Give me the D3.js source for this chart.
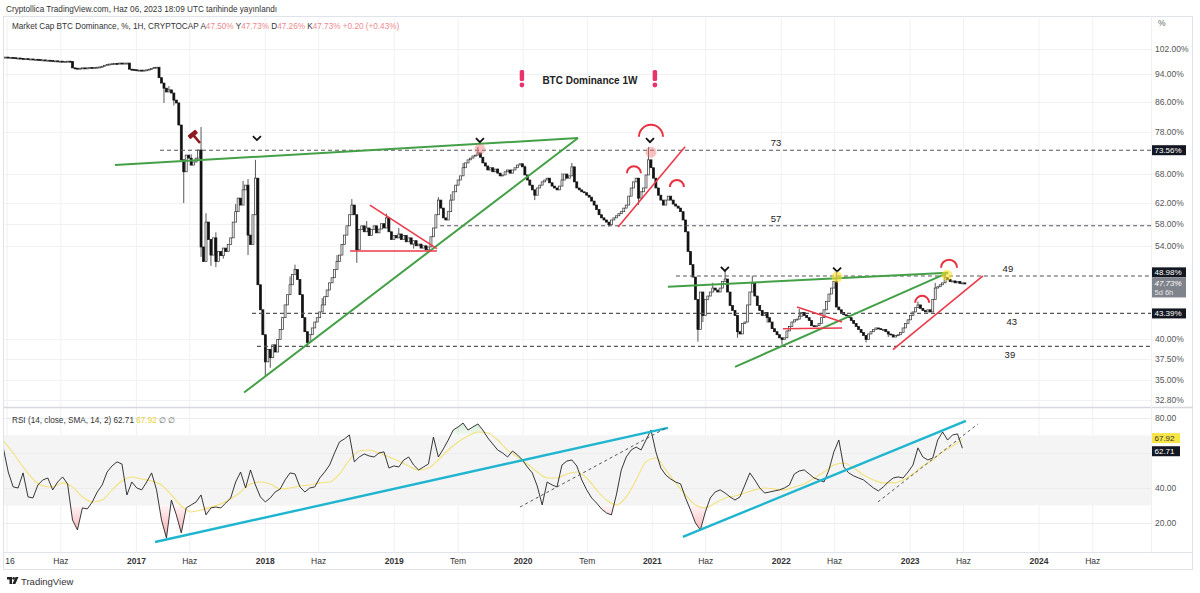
<!DOCTYPE html>
<html><head><meta charset="utf-8">
<script src="https://cdn.jsdelivr.net/npm/d3@7"></script>
<style>
body{margin:0;background:#fff;}
svg{display:block;font-family:"Liberation Sans",Arial,sans-serif;}
</style>
</head><body>
<svg id="chart" width="1200" height="593"></svg>
<script>
// ---------------- DATA ----------------
const firstWeek = "2015-12-21";           // first weekly candle
const closes = [
99.4,99.4,99.3,99.3,99.2,99.1,99.1,99.0,98.9,98.9,
98.8,98.8,98.7,98.7,98.6,98.5,98.5,98.4,98.4,98.3,
98.2,98.2,98.1,98.1,98.0,98.0,98.1,98.0,96.0,95.9,
95.8,95.9,96.0,95.9,96.0,96.1,96.0,96.1,96.2,96.3,
96.5,96.8,97.1,97.2,97.3,97.4,97.3,97.5,97.4,97.5,
97.5,95.6,95.5,95.4,95.3,95.3,95.2,95.3,95.4,95.6,
95.8,96.1,96.2,93.0,91.4,89.9,88.8,89.4,88.5,86.5,
85.7,79.8,71.3,68.6,72.4,71.7,70.1,70.8,71.7,73.6,
53.8,51.3,58.3,55.1,52.4,55.4,51.3,53.0,52.3,53.6,
53.0,54.2,55.4,58.3,60.3,63.0,61.6,64.7,65.7,55.9,
54.2,59.7,67.2,47.6,43.9,40.5,37.1,38.6,37.6,39.2,
38.3,39.9,41.2,42.8,44.6,46.1,47.6,49.2,50.0,48.4,
46.1,42.8,40.9,39.5,40.5,41.4,42.2,42.8,43.6,44.6,
45.8,46.8,47.9,48.7,50.0,51.3,52.4,54.2,55.9,57.6,
59.7,61.6,59.7,53.3,56.9,57.6,56.5,57.2,55.8,56.9,
57.6,56.3,57.0,58.0,57.2,59.1,56.5,55.1,55.8,55.4,
56.1,55.1,55.8,54.7,55.4,54.3,54.9,54.0,54.3,53.6,
54.0,53.3,53.8,55.6,57.2,59.7,62.6,61.0,59.1,58.7,
60.3,62.6,64.3,65.7,66.8,67.7,69.5,70.6,71.3,71.7,
72.2,72.4,72.9,71.9,70.6,69.9,69.0,69.5,68.6,69.2,
68.3,67.7,67.9,68.6,69.0,68.3,69.0,69.5,70.1,70.4,
69.7,67.9,66.8,65.7,64.7,63.6,65.1,65.7,66.4,66.8,
67.2,66.2,65.5,65.1,64.7,65.5,66.8,68.1,67.2,67.7,
69.7,66.4,65.1,64.7,64.3,64.1,63.6,63.2,62.4,61.6,
60.7,59.7,59.1,58.7,58.3,57.8,58.7,59.1,59.5,59.9,
60.3,61.0,61.6,63.4,65.1,66.4,67.2,63.0,64.3,65.1,
67.9,71.3,69.5,67.2,65.1,63.6,62.6,61.6,62.6,63.4,
62.6,61.8,61.4,61.0,60.3,58.7,56.5,53.0,50.8,48.8,
45.4,41.2,46.5,43.1,45.4,45.9,46.5,47.1,46.8,46.5,
47.1,48.1,48.5,46.5,44.5,43.8,43.1,40.9,40.6,42.0,
42.2,44.6,46.5,47.8,45.9,44.5,43.8,43.1,43.5,42.8,
42.2,41.3,40.9,40.5,40.1,39.9,40.1,41.0,41.6,42.2,
42.5,42.6,43.0,43.5,43.1,42.8,42.4,41.7,41.6,41.7,
42.0,42.8,43.9,45.1,46.2,47.1,48.1,44.3,43.9,43.5,
43.2,43.1,42.8,42.4,42.0,41.6,41.2,40.8,40.4,39.9,
40.6,40.9,41.2,41.4,41.3,41.2,41.2,40.9,40.6,40.5,
40.2,40.4,40.5,40.8,41.4,42.0,42.5,43.1,43.6,44.2,
44.6,44.1,43.8,43.6,43.9,43.6,45.4,47.1,47.3,47.6,
47.9,48.7,48.4,48.1,48.2,47.9,48.1,47.8,47.9,47.73
];
// notable wicks (candle index, high, low); null = no extra wick
const wickIndex = [65,67,69,73,76,80,82,84,86,89,94,97,99,102,106,108,113,116,118,123,129,135,141,143,147,155,160,166,176,181,186,192,200,211,215,226,230,245,257,261,281,283,287,292,297,303,309,315,322,337,349,358,370,377,381];
const wickHigh  = [null,90.5,null,null,72.6,79.3,60.0,null,56.4,null,61.8,66.6,67.0,71.3,null,null,null,48.9,50.8,null,45.6,52.4,62.8,null,58.5,59.9,57.2,null,63.2,63.8,70.6,74.3,69.3,70.0,null,68.3,70.6,null,null,74.3,null,null,47.9,50.0,null,49.0,null,null,44.0,49.6,null,null,45.1,47.9,49.3];
const wickLow   = [85.7,null,85.0,62.0,null,52.1,null,50.6,50.4,51.8,null,null,52.4,null,35.4,36.4,null,null,null,38.9,null,null,null,51.1,null,null,null,53.5,null,null,null,null,null,null,62.6,null,null,57.4,61.6,null,39.6,42.2,null,null,40.1,null,42.1,39.2,null,null,39.5,40.2,null,null,null];

// RSI(14) sampled every 2 weeks from the first candle
const rsiStepWeeks = 2;
const rsiValues = [
62.9,49.1,40.6,40.0,48.6,34.9,34.3,41.7,44.6,45.7,
38.9,43.4,46.3,42.3,21.7,16.0,28.6,28.0,32.0,37.7,
41.7,49.1,52.6,54.9,53.7,36.0,43.4,40.0,38.9,43.4,
48.6,38.9,21.7,11.4,33.1,24.6,14.3,28.6,30.3,32.0,
36.0,24.6,28.6,29.1,28.6,31.4,34.3,43.4,49.1,40.0,
50.3,41.7,34.9,32.0,34.3,37.7,39.4,44.6,48.6,48.0,
40.6,37.7,40.0,40.6,45.7,49.1,53.1,60.0,66.3,68.0,
70.3,54.9,57.7,59.4,58.3,57.7,60.0,60.6,51.4,52.6,
52.0,56.0,57.7,53.1,50.3,52.0,53.7,69.1,57.7,62.3,
67.4,73.1,74.9,77.1,73.1,74.9,76.6,73.1,68.6,65.1,
61.7,60.0,57.7,61.1,58.9,56.0,52.0,48.6,41.1,30.3,
43.4,41.7,40.6,53.1,55.4,56.0,52.6,44.6,38.9,34.3,
31.4,28.0,25.7,24.6,36.0,50.3,57.7,61.7,63.4,61.7,
67.4,73.1,60.6,51.4,47.4,45.1,43.4,42.3,34.3,27.4,
20.0,16.0,26.3,34.3,37.7,38.9,37.1,34.9,33.1,34.9,
41.7,48.6,44.6,40.0,37.1,37.7,38.3,38.9,40.0,41.7,
48.0,49.7,50.3,48.0,45.7,44.6,43.4,50.3,60.6,67.4,
52.0,48.6,46.9,45.7,44.6,42.3,40.0,38.3,40.6,43.4,
45.7,46.3,45.7,49.1,53.1,62.9,57.7,56.0,57.1,67.4,
72.0,67.4,70.3,70.9,62.71
];
// SMA(14) of RSI sampled every 4 weeks
const smaStepWeeks = 4;
const smaValues = [
66.9,60.0,52.0,45.1,41.1,40.6,42.9,40.6,34.9,32.0,
33.1,38.9,44.0,46.3,45.1,44.0,41.7,36.0,29.7,26.3,
27.4,29.1,30.9,33.7,37.7,42.3,43.4,42.3,39.4,40.0,
41.1,41.7,42.9,43.4,48.0,56.0,61.1,61.7,60.0,57.7,
55.4,52.6,50.3,51.4,56.0,61.7,66.3,69.7,72.0,71.4,
67.4,61.7,57.7,53.7,49.1,45.7,45.7,48.0,49.1,45.7,
38.9,33.1,30.3,34.9,44.6,54.9,57.1,50.3,42.9,36.0,
30.3,28.6,31.4,34.3,35.4,37.1,38.9,40.0,39.4,38.9,
40.6,42.3,45.7,49.1,53.1,54.3,51.4,47.4,44.6,42.9,
42.9,44.6,48.0,52.6,56.0,60.6,64.0,67.92
];

const priceTicks = [102, 94, 86, 78, 68, 62, 58, 54, 40, 37.5, 35, 32.8];
const rsiTicks = [80, 60, 40, 20];
const timeTickDates = ["2016-01-01","2016-06-01","2017-01-01","2017-06-01","2018-01-01","2018-06-01",
  "2019-01-01","2019-07-01","2020-01-01","2020-07-01","2021-01-01","2021-06-01","2022-01-01",
  "2022-06-01","2023-01-01","2023-06-01","2024-01-01","2024-06-01"];
const timeTickLabels = ["16","Haz","2017","Haz","2018","Haz","2019","Tem","2020","Tem","2021","Haz",
  "2022","Haz","2023","Haz","2024","Haz"];

// horizontal levels: value, starting candle index, label, label candle index, label side
const levelValues = [73.56, 57.6, 48.98, 43.39, 39.0];
const levelStart  = [63.4, 176.7, 272.1, 100.6, 102.6];
const levelLabels = ["73", "57", "49", "43", "39"];
const levelLabelAt = [312.6, 312.6, 406.4, 408.0, 407.2];
const levelLabelSide = ["above","above","above","below","below"];

// trend lines on the price pane: [idx1, val1, idx2, val2]
const greenLines = [[45.2,70.1,232.5,76.5],[97.4,33.6,232.5,76.5],[268.9,47.3,382.2,49.5],[296.0,36.5,382.2,49.5]];
const redLines = [[148.3,61.6,175.4,53.5],[140.3,53.1,175.4,53.1],[248.7,57.4,275.8,74.4],
  [321.1,44.3,339.3,42.2],[315.4,41.3,339.3,41.4],[359.9,38.6,396.3,49.0]];
const arcs = [[262.0,76.8,12],[255.1,68.3,7],[272.5,65.3,7],[371.7,44.9,7],[382.6,50.3,8]];
const chevrons = [[102.6,76.5],[192.8,76.0],[261.6,76.0],[291.9,50.1],[337.3,50.0]];
const pinkDots = [[192.8,73.8],[262.0,73.1]];
const yellowDots = [[337.3,48.8],[381.7,49.1]];
const hammerAt = [77.5,76.8];
const alerts = [[209.8,92.3],[263.6,92.3]];
const titleAt = [237.3,91.1];
// RSI pane lines [idx1, rsi1, idx2, rsi2]
const cyanLines = [[61.4,9.1,268.9,74.3],[274.9,12.0,389.4,78.3]];
const dashedRsiLines = [[209.0,29.1,268.1,74.3],[353.8,32.0,394.3,76.6]];

// ---------------- SETUP ----------------
const svg = d3.select("#chart");
const L = 4, R = 1151;               // plot left/right
const PT = 18, PB = 407;             // price pane
const RT = 408, RB = 545;            // rsi pane
const start = d3.utcParse("%Y-%m-%d")(firstWeek);
const dateAtF = i => new Date(start.getTime() + i * 7 * 864e5);

const x = d3.scaleUtc().domain([new Date(Date.UTC(2015,11,23)), new Date(Date.UTC(2024,10,13))]).range([L, R]);
const y = d3.scaleLog().domain([32.06, 112.8]).range([PB, PT]);
const yr = d3.scaleLinear().domain([7.4, 85.7]).range([RB, RT]);
const xi = i => x(dateAtF(i));

svg.append("rect").attr("width",1200).attr("height",593).attr("fill","#fff");

const defs = svg.append("defs");
defs.append("clipPath").attr("id","clipP").append("rect").attr("x",L).attr("y",PT).attr("width",R-L).attr("height",PB-PT);
defs.append("clipPath").attr("id","clipR").append("rect").attr("x",L).attr("y",RT).attr("width",R-L).attr("height",RB-RT);
defs.append("clipPath").attr("id","clipLow").append("rect").attr("x",L).attr("y",yr(30)).attr("width",R-L).attr("height",RB-yr(30));
defs.append("clipPath").attr("id","clipHigh").append("rect").attr("x",L).attr("y",RT).attr("width",R-L).attr("height",yr(70)-RT);
const gr = defs.append("linearGradient").attr("id","redGrad").attr("gradientUnits","userSpaceOnUse")
  .attr("x1",0).attr("x2",0).attr("y1",yr(30)).attr("y2",yr(10));
gr.append("stop").attr("offset",0).attr("stop-color","rgba(242,54,69,0.05)");
gr.append("stop").attr("offset",1).attr("stop-color","rgba(242,54,69,0.45)");
const gg = defs.append("linearGradient").attr("id","greenGrad").attr("gradientUnits","userSpaceOnUse")
  .attr("x1",0).attr("x2",0).attr("y1",yr(70)).attr("y2",yr(80));
gg.append("stop").attr("offset",0).attr("stop-color","rgba(76,175,80,0.05)");
gg.append("stop").attr("offset",1).attr("stop-color","rgba(76,175,80,0.35)");

// ---------------- HEADER ----------------
svg.append("text").attr("x",6).attr("y",12).attr("font-size",8.2).attr("fill","#333")
  .text("Cryptollica TradingView.com, Haz 06, 2023 18:09 UTC tarihinde yayınlandı");

// frame
svg.append("rect").attr("x",L-0.5).attr("y",16.5).attr("width",1193-L).attr("height",553)
  .attr("fill","none").attr("stroke","#e0e3eb");

// ---------------- GRID ----------------
const tickDates = timeTickDates.map(d3.utcParse("%Y-%m-%d"));
svg.append("g").selectAll("line").data(tickDates).join("line")
  .attr("x1",d=>x(d)).attr("x2",d=>x(d)).attr("y1",PT).attr("y2",552)
  .attr("stroke","#f0f1f4").attr("stroke-width",1);
svg.append("g").selectAll("line").data(priceTicks).join("line")
  .attr("x1",L).attr("x2",R).attr("y1",d=>Math.round(y(d))+0.5).attr("y2",d=>Math.round(y(d))+0.5)
  .attr("stroke","#f0f1f4");
// RSI band
svg.append("rect").attr("x",L).attr("width",R-L).attr("y",yr(70)).attr("height",yr(30)-yr(70)).attr("fill","#f4f4f5");
svg.append("g").selectAll("line").data(rsiTicks).join("line")
  .attr("x1",L).attr("x2",R).attr("y1",d=>Math.round(yr(d))+0.5).attr("y2",d=>Math.round(yr(d))+0.5)
  .attr("stroke","#ececef");

// ---------------- CANDLES ----------------
const candles = closes.map((c,i)=>({i, o: i ? closes[i-1] : c, c}));
const gP = svg.append("g").attr("clip-path","url(#clipP)");
const bw = 2.0;
gP.append("g").selectAll("line").data(wickIndex.map((k,j)=>({k,h:wickHigh[j],l:wickLow[j]}))).join("line")
  .attr("x1",d=>xi(d.k)).attr("x2",d=>xi(d.k))
  .attr("y1",d=>y(d.h!==null ? d.h : Math.max(candles[d.k].o,candles[d.k].c)))
  .attr("y2",d=>y(d.l!==null ? d.l : Math.min(candles[d.k].o,candles[d.k].c)))
  .attr("stroke","#444").attr("stroke-width",0.9);
gP.append("g").selectAll("rect").data(candles).join("rect")
  .attr("x",d=>xi(d.i)-bw/2).attr("width",bw)
  .attr("y",d=>y(Math.max(d.o,d.c)))
  .attr("height",d=>Math.max(1, y(Math.min(d.o,d.c)) - y(Math.max(d.o,d.c))))
  .attr("fill",d=>d.c>=d.o ? "#f4f4f4" : "#111")
  .attr("stroke",d=>d.c>=d.o ? "#333" : "#111").attr("stroke-width",0.7);

// ---------------- LEVELS ----------------
const gA = svg.append("g").attr("clip-path","url(#clipP)");
levelValues.forEach((v,k)=>{
  gA.append("line").attr("x1",xi(levelStart[k])).attr("x2",R).attr("y1",y(v)).attr("y2",y(v))
    .attr("stroke","#555").attr("stroke-width",1.1).attr("stroke-dasharray","4,3");
  gA.append("text").attr("x",xi(levelLabelAt[k])).attr("y", y(v) + (levelLabelSide[k]==="above" ? -4 : 12))
    .attr("text-anchor","middle").attr("font-size",9.5).attr("fill","#222").text(levelLabels[k]);
});

gA.append("g").selectAll("line").data(greenLines).join("line")
  .attr("x1",d=>xi(d[0])).attr("y1",d=>y(d[1])).attr("x2",d=>xi(d[2])).attr("y2",d=>y(d[3]))
  .attr("stroke","#43a047").attr("stroke-width",2);
gA.append("g").selectAll("line").data(redLines).join("line")
  .attr("x1",d=>xi(d[0])).attr("y1",d=>y(d[1])).attr("x2",d=>xi(d[2])).attr("y2",d=>y(d[3]))
  .attr("stroke","#ec3a4a").attr("stroke-width",1.6);
gA.append("g").selectAll("path").data(arcs).join("path")
  .attr("d",d=>{const cx=xi(d[0]), cy=y(d[1]), r=d[2]; return `M${cx-r},${cy} A${r},${r} 0 0 1 ${cx+r},${cy}`;})
  .attr("fill","none").attr("stroke","#e8303f").attr("stroke-width",2);
gA.append("g").selectAll("path").data(chevrons).join("path")
  .attr("d",d=>{const cx=xi(d[0]), cy=y(d[1]); return `M${cx-4},${cy-2} L${cx},${cy+2} L${cx+4},${cy-2}`;})
  .attr("fill","none").attr("stroke","#111").attr("stroke-width",1.8);
gA.append("g").selectAll("circle").data(pinkDots).join("circle")
  .attr("cx",d=>xi(d[0])).attr("cy",d=>y(d[1])).attr("r",5.5).attr("fill","rgba(240,120,120,0.45)");
gA.append("g").selectAll("circle").data(yellowDots).join("circle")
  .attr("cx",d=>xi(d[0])).attr("cy",d=>y(d[1])).attr("r",5.5).attr("fill","rgba(255,225,40,0.6)");
const hm = gA.append("g").attr("transform",`translate(${xi(hammerAt[0])},${y(hammerAt[1])}) rotate(-40)`);
hm.append("rect").attr("x",-1.3).attr("y",-2).attr("width",2.6).attr("height",10).attr("fill","#8e1b22");
hm.append("rect").attr("x",-5).attr("y",-5.5).attr("width",10).attr("height",4.5).attr("rx",0.8).attr("fill","#8e1b22");
alerts.forEach(a=>{
  const cx = xi(a[0]), cy = y(a[1]);
  gA.append("rect").attr("x",cx-2.2).attr("y",cy-10).attr("width",4.4).attr("height",11).attr("rx",1.5).attr("fill","#e8336b");
  gA.append("circle").attr("cx",cx).attr("cy",cy+5).attr("r",2.4).attr("fill","#e8336b");
});
gA.append("text").attr("x",xi(titleAt[0])).attr("y",y(titleAt[1])).attr("text-anchor","middle")
  .attr("font-size",10).attr("font-weight","bold").attr("fill","#222").text("BTC Dominance 1W");

// ---------------- RSI ----------------
const rsiPts = rsiValues.map((v,k)=>({d: dateAtF(k*rsiStepWeeks), v}));
const smaPts = smaValues.map((v,k)=>({d: dateAtF(k*smaStepWeeks), v}));
const gR = svg.append("g").attr("clip-path","url(#clipR)");
const area = d3.area().x(p=>x(p.d)).y0(yr(30)).y1(p=>yr(p.v));
gR.append("path").datum(rsiPts).attr("clip-path","url(#clipLow)").attr("d",area).attr("fill","url(#redGrad)");
const area2 = d3.area().x(p=>x(p.d)).y0(yr(70)).y1(p=>yr(p.v));
gR.append("path").datum(rsiPts).attr("clip-path","url(#clipHigh)").attr("d",area2).attr("fill","url(#greenGrad)");
gR.append("path").datum(smaPts).attr("d",d3.line().x(p=>x(p.d)).y(p=>yr(p.v)).curve(d3.curveMonotoneX))
  .attr("fill","none").attr("stroke","#f3e27a").attr("stroke-width",1.1);
gR.append("path").datum(rsiPts).attr("d",d3.line().x(p=>x(p.d)).y(p=>yr(p.v)))
  .attr("fill","none").attr("stroke","#222").attr("stroke-width",0.9);
gR.append("g").selectAll("line").data(cyanLines).join("line")
  .attr("x1",d=>xi(d[0])).attr("y1",d=>yr(d[1])).attr("x2",d=>xi(d[2])).attr("y2",d=>yr(d[3]))
  .attr("stroke","#1fb5cf").attr("stroke-width",2.4);
gR.append("g").selectAll("line").data(dashedRsiLines).join("line")
  .attr("x1",d=>xi(d[0])).attr("y1",d=>yr(d[1])).attr("x2",d=>xi(d[2])).attr("y2",d=>yr(d[3]))
  .attr("stroke","#444").attr("stroke-width",0.9).attr("stroke-dasharray","3,3");

// ---------------- SEPARATORS ----------------
svg.append("line").attr("x1",L).attr("x2",1193).attr("y1",407.5).attr("y2",407.5).attr("stroke","#d6d8de").attr("stroke-width",1.5);
svg.append("line").attr("x1",L).attr("x2",1193).attr("y1",552.5).attr("y2",552.5).attr("stroke","#e0e3eb");
svg.append("line").attr("x1",R+0.5).attr("x2",R+0.5).attr("y1",16.5).attr("y2",552.5).attr("stroke","#eef0f3");

// ---------------- LEGENDS ----------------
const leg = svg.append("text").attr("x",12).attr("y",29).attr("font-size",8.2).attr("fill","#333");
leg.append("tspan").text("Market Cap BTC Dominance, %, 1H, CRYPTOCAP  ");
const ohlc = [["A","47.50%"],["Y","47.73%"],["D","47.26%"],["K","47.73%"]];
ohlc.forEach(p=>{ leg.append("tspan").text(p[0]); leg.append("tspan").attr("fill","#ee8a8f").text(p[1]+"  "); });
leg.append("tspan").attr("fill","#ee8a8f").text("+0.20 (+0.43%)");

const rl = svg.append("text").attr("x",12).attr("y",423).attr("font-size",8.2).attr("fill","#333");
rl.append("tspan").text("RSI (14, close, SMA, 14, 2)  62.71  ");
rl.append("tspan").attr("fill","#e8d33a").text("67.92");
rl.append("tspan").attr("fill","#666").text("  ∅  ∅");

// ---------------- PRICE AXIS ----------------
svg.append("text").attr("x",1158).attr("y",26).attr("font-size",8.5).attr("fill","#666").text("%");
svg.append("g").selectAll("text").data(priceTicks).join("text")
  .attr("x",1155).attr("y",d=>y(d)+3).attr("font-size",8.5).attr("fill","#555")
  .text(d=>d.toFixed(2)+"%");
// label boxes: value, vertical offset of box top from the value's y
const boxes = [[73.56,-5],[48.98,-8.6],[43.39,-5]];
boxes.forEach(b=>{
  const top = y(b[0]) + b[1];
  svg.append("rect").attr("x",1152).attr("y",top).attr("width",34).attr("height",10).attr("fill","#131722");
  svg.append("text").attr("x",1154.5).attr("y",top+8).attr("font-size",8).attr("fill","#fff").text(b[0].toFixed(2)+"%");
});
const last = closes[closes.length-1];
const lastTop = y(last) - 6.5;
svg.append("rect").attr("x",1152).attr("y",lastTop).attr("width",34).attr("height",20).attr("fill","#7f838c");
svg.append("text").attr("x",1154.5).attr("y",lastTop+8.3).attr("font-size",8).attr("font-style","italic").attr("fill","#fff").text(last.toFixed(2)+"%");
svg.append("text").attr("x",1154.5).attr("y",lastTop+17.5).attr("font-size",7.5).attr("fill","#e6e6e6").text("5d 6h");

// ---------------- RSI AXIS ----------------
svg.append("g").selectAll("text").data(rsiTicks.filter(t=>t!==60)).join("text")
  .attr("x",1155).attr("y",d=>yr(d)+3).attr("font-size",8.5).attr("fill","#555").text(d=>d.toFixed(2));
const lastSma = smaValues[smaValues.length-1], lastRsi = rsiValues[rsiValues.length-1];
const smaTop = yr(lastSma) - 6, rsiTop = yr(lastRsi) - 2;
svg.append("rect").attr("x",1152).attr("y",smaTop).attr("width",28).attr("height",10).attr("fill","#f7e548");
svg.append("text").attr("x",1154.5).attr("y",smaTop+8).attr("font-size",8).attr("fill","#333").text(lastSma.toFixed(2));
svg.append("rect").attr("x",1152).attr("y",rsiTop).attr("width",28).attr("height",10).attr("fill","#131722");
svg.append("text").attr("x",1154.5).attr("y",rsiTop+8).attr("font-size",8).attr("fill","#fff").text(lastRsi.toFixed(2));

// ---------------- TIME AXIS ----------------
svg.append("g").selectAll("text").data(tickDates).join("text")
  .attr("x",(d,i)=>i===0 ? x(d)-2 : x(d)).attr("y",564)
  .attr("text-anchor",(d,i)=>i===0 ? "start" : "middle").attr("font-size",8.5)
  .attr("font-weight",(d,i)=>/^\d{4}$/.test(timeTickLabels[i]) ? "bold" : "normal")
  .attr("fill","#333").text((d,i)=>timeTickLabels[i]);

// ---------------- LOGO ----------------
const lg = svg.append("g").attr("transform","translate(7,577)");
lg.append("path").attr("d","M0,0 H5 V7 H2.5 V2.5 H0 Z").attr("fill","#222");
lg.append("circle").attr("cx",6.6).attr("cy",1.4).attr("r",1.3).attr("fill","#222");
lg.append("path").attr("d","M8.5,0 H11.5 L8.3,7 H5.4 Z").attr("fill","#222");
svg.append("text").attr("x",21).attr("y",585).attr("font-size",9.5).attr("fill","#333").text("TradingView");
</script>
</body></html>
